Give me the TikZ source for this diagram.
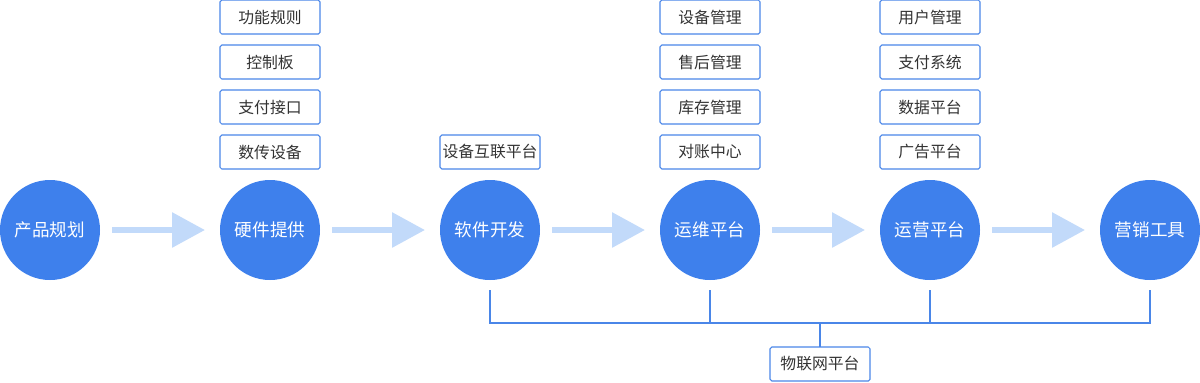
\documentclass[tikz,border=0pt]{standalone}
\usepackage{fontspec}
\newfontfamily\cjk{Noto Sans CJK SC}
\usepackage{tikz}
\usetikzlibrary{positioning,arrows.meta,calc}
\definecolor{stageblue}{RGB}{62,128,236}
\definecolor{flowblue}{RGB}{194,218,250}
\definecolor{edgeblue}{RGB}{74,134,232}
\definecolor{textgray}{RGB}{51,51,51}

\begin{document}
\begin{tikzpicture}[
    node distance=2.4cm and 2.4cm,
    stage/.style={circle, fill=stageblue, minimum size=2cm, inner sep=0pt,
        outer sep=0pt, text=white, font=\cjk\fontsize{10}{12}\selectfont},
    item/.style={rectangle, draw=edgeblue, line width=0.6pt, fill=white,
        minimum width=2cm, minimum height=0.68cm, inner sep=1pt, outer sep=0pt,
        rounded corners=1pt, text=textgray, font=\cjk\fontsize{9}{11}\selectfont},
    flow/.style={-{Triangle[length=0.66cm, width=0.68cm]}, line width=0.12cm, draw=flowblue},
    link/.style={draw=edgeblue, line width=0.6pt}
]
\useasboundingbox (0,0) rectangle (24,-7.64);

% Stages
\node[stage] (plan) at (1,-4.6) {产品规划};
\node[stage, right=of plan] (hard) {硬件提供};
\node[stage, right=of hard] (soft) {软件开发};
\node[stage, right=of soft] (ops) {运维平台};
\node[stage, right=of ops] (run) {运营平台};
\node[stage, right=of run] (market) {营销工具};

% Hardware items
\node[item, above=0.22cm of hard] (hw4) {数传设备};
\node[item, above=0.22cm of hw4] (hw3) {支付接口};
\node[item, above=0.22cm of hw3] (hw2) {控制板};
\node[item, above=0.22cm of hw2] (hw1) {功能规则};

% Software item
\node[item, above=0.22cm of soft] (sw1) {设备互联平台};

% Maintenance items
\node[item, above=0.22cm of ops] (op4) {对账中心};
\node[item, above=0.22cm of op4] (op3) {库存管理};
\node[item, above=0.22cm of op3] (op2) {售后管理};
\node[item, above=0.22cm of op2] (op1) {设备管理};

% Operation items
\node[item, above=0.22cm of run] (rn4) {广告平台};
\node[item, above=0.22cm of rn4] (rn3) {数据平台};
\node[item, above=0.22cm of rn3] (rn2) {支付系统};
\node[item, above=0.22cm of rn2] (rn1) {用户管理};

% Flow arrows
\foreach \a/\b in {plan/hard, hard/soft, soft/ops, ops/run, run/market}
    \draw[flow] ([xshift=0.24cm]\a.east) -- ([xshift=-0.3cm]\b.west);

% IoT platform
\coordinate (busmid) at ($(ops.south)!0.5!(run.south)+(0,-0.86)$);
\node[item, below=0.48cm of busmid] (iot) {物联网平台};

\draw[link] ([yshift=-0.2cm]soft.south) |- (busmid);
\draw[link] ([yshift=-0.2cm]market.south) |- (busmid);
\draw[link] ([yshift=-0.2cm]ops.south) -- (ops.south |- busmid);
\draw[link] ([yshift=-0.2cm]run.south) -- (run.south |- busmid);
\draw[link] (busmid) -- (iot);

\end{tikzpicture}
\end{document}
